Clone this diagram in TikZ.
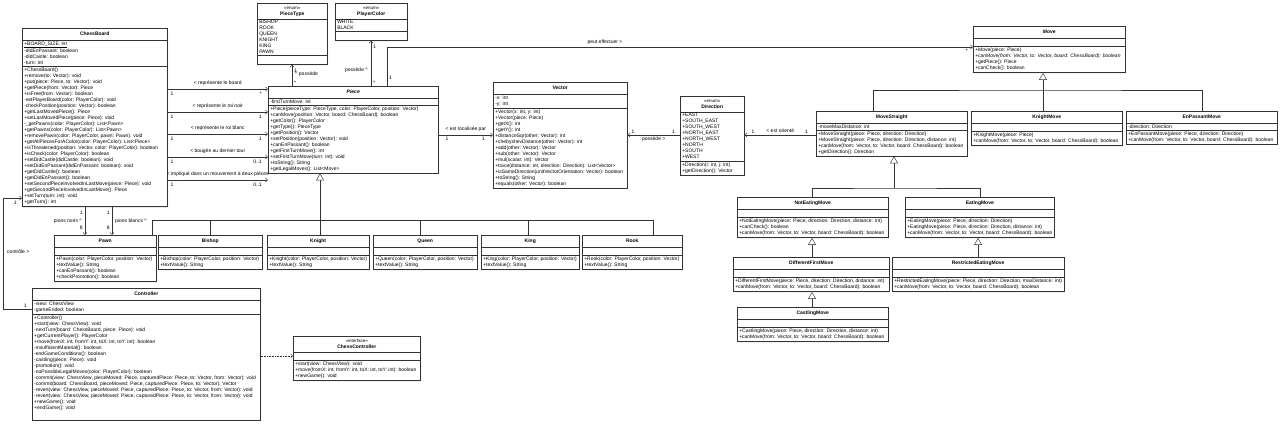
\documentclass[tikz,border=0pt]{standalone}
\usepackage{fontspec}
\setmainfont{Liberation Sans}
\usetikzlibrary{shapes.multipart,arrows.meta,shadows}

\newcommand{\umlfont}{\fontsize{5}{6}\selectfont}
\newcommand{\cname}[1]{\rule[-2.6pt]{0pt}{8pt}\textbf{#1}}
\newcommand{\stereo}[2]{{\begin{tabular}{@{}c@{}}{\fontsize{4.5}{5}\selectfont«#1»}\\\textbf{#2}\rule[-1pt]{0pt}{1pt}\end{tabular}}}

\begin{document}
\begin{tikzpicture}[x=1pt,y=-1pt,
		cls/.style={draw=black!80, line width=0.5pt, fill=white, rectangle split, rectangle split parts=3,
			rectangle split part align={center,left,left}, rectangle split empty part height=1pt,
			align=left, anchor=north west, inner xsep=2pt, inner ysep=1.5pt, minimum width=#1, font=\umlfont,
			drop shadow={shadow xshift=0.8pt, shadow yshift=-0.8pt, opacity=0.25}},
		link/.style={draw=black!80, line width=0.45pt},
		assoc/.style={link, -{Straight Barb[length=2.2pt,width=4pt]}},
		inherit/.style={link, -{Triangle[open,length=7pt,width=8pt,fill=white]}},
		realize/.style={assoc, line width=0.35pt, dash pattern=on 0.6pt off 1pt},
		lab/.style={font=\umlfont, inner sep=1pt},
	]
	\useasboundingbox[fill=white] (0,0) rectangle (1280,426);

	\node[cls=145pt] (board) at (22,28) {\cname{ChessBoard}
		\nodepart{second}\underline{+BOARD\_SIZE: int}\\-didEnPassant: boolean\\-didCastle: boolean\\-turn: int
		\nodepart{third}+ChessBoard()\\+remove(to: Vector): void\\+put(piece: Piece, to: Vector): void\\+getPiece(from: Vector): Piece\\+isFree(from: Vector): boolean\\-setPlayerBoard(color: PlayerColor): void\\-checkPosition(position: Vector): boolean\\+getLastMovedPiece(): Piece\\+setLastMovedPiece(piece: Piece): void\\-\_getPawns(color: PlayerColor): List<Pawn>\\+getPawns(color: PlayerColor): List<Pawn>\\+removePawn(color: PlayerColor, pawn: Pawn): void\\+getAllPiecesForAColor(color: PlayerColor): List<Piece>\\+isThreatened(position: Vector, color: PlayerColor): boolean\\+isCheck(color: PlayerColor): boolean\\+setDidCastle(didCastle: boolean): void\\+setDidEnPassant(didEnPassant: boolean): void\\+getDidCastle(): boolean\\+getDidEnPassant(): boolean\\+setSecondPieceInvolvedInLastMove(piece: Piece): void\\+getSecondPieceInvolvedInLastMove(): Piece\\+setTurn(turn: int): void\\+getTurn(): int};

	\node[cls=70pt] (piecetype) at (257,3) {\stereo{enum}{PieceType}
		\nodepart{second}BISHOP\\ROOK\\QUEEN\\KNIGHT\\KING\\PAWN
		\nodepart{third}};
	\node[cls=72pt] (playercolor) at (335,3) {\stereo{enum}{PlayerColor}
		\nodepart{second}WHITE\\BLACK
		\nodepart{third}};

	\node[cls=170pt] (piece) at (268,86) {\cname{\textit{Piece}}
		\nodepart{second}-firstTurnMove: int
		\nodepart{third}+Piece(pieceType: PieceType, color: PlayerColor, position: Vector)\\+canMove(position: Vector, board: ChessBoard): boolean\\+getColor(): PlayerColor\\+getType(): PieceType\\+getPosition(): Vector\\+setPosition(position: Vector): void\\+canEnPassant(): boolean\\+getFirstTurnMove(): int\\+setFirstTurnMove(turn: int): void\\+toString(): String\\+getLegalMoves(): List<Move>};

	\node[cls=134pt] (vector) at (493,82) {\cname{Vector}
		\nodepart{second}-x: int\\-y: int
		\nodepart{third}+Vector(x: int, y: int)\\+Vector(piece: Piece)\\+getX(): int\\+getY(): int\\+distanceSqr(other: Vector): int\\+chebyshevDistance(other: Vector): int\\+add(other: Vector): Vector\\+sub(other: Vector): Vector\\+mul(scalar: int): Vector\\+trace(distance: int, direction: Direction): List<Vector>\\+isSameDirection(unitVectorOrientation: Vector): boolean\\+toString(): String\\+equals(other: Vector): boolean};

	\node[cls=64pt] (direction) at (680,96) {\stereo{enum}{Direction}
		\nodepart{second}+EAST\\+SOUTH\_EAST\\+SOUTH\_WEST\\+NORTH\_EAST\\+NORTH\_WEST\\+NORTH\\+SOUTH\\+WEST
		\nodepart{third}+Direction(i: int, j: int)\\+getDirection(): Vector};

	\node[cls=152pt] (move) at (973,26) {\cname{\textit{Move}}
		\nodepart{second}
		\nodepart{third}+Move(piece: Piece)\\\textit{+canMove(from: Vector, to: Vector, board: ChessBoard): boolean}\\+getPiece(): Piece\\+canCheck(): boolean};
	\node[cls=151pt] (straight) at (816,111) {\cname{MoveStraight}
		\nodepart{second}-moveMaxDistance: int
		\nodepart{third}+MoveStraight(piece: Piece, direction: Direction)\\+MoveStraight(piece: Piece, direction: Direction, distance: int)\\+canMove(from: Vector, to: Vector, board: ChessBoard): boolean\\+getDirection(): Direction};
	\node[cls=151pt] (knightmove) at (971,111) {\cname{KnightMove}
		\nodepart{second}
		\nodepart{third}+KnightMove(piece: Piece)\\+canMove(from: Vector, to: Vector, board: ChessBoard): boolean};
	\node[cls=151pt] (enpassant) at (1126,111) {\cname{EnPassantMove}
		\nodepart{second}-direction: Direction
		\nodepart{third}+EnPassantMove(piece: Piece, direction: Direction)\\+canMove(from: Vector, to: Vector, board: ChessBoard): boolean};
	\node[cls=151pt] (noteating) at (737,197) {\cname{NotEatingMove}
		\nodepart{second}
		\nodepart{third}+NotEatingMove(piece: Piece, direction: Direction, distance: int)\\+canCheck(): boolean\\+canMove(from: Vector, to: Vector, board: ChessBoard): boolean};
	\node[cls=148pt] (eating) at (905,197) {\cname{EatingMove}
		\nodepart{second}
		\nodepart{third}+EatingMove(piece: Piece, direction: Direction)\\+EatingMove(piece: Piece, direction: Direction, distance: int)\\+canMove(from: Vector, to: Vector, board: ChessBoard): boolean};
	\node[cls=156pt] (firstmove) at (733,257) {\cname{DifferentFirstMove}
		\nodepart{second}
		\nodepart{third}+DifferentFirstMove(piece: Piece, direction: Direction, distance: int)\\+canMove(from: Vector, to: Vector, board: ChessBoard): boolean};
	\node[cls=170pt] (restricted) at (892,257) {\cname{RestrictedEatingMove}
		\nodepart{second}
		\nodepart{third}+RestrictedEatingMove(piece: Piece, direction: Direction, maxDistance: int)\\+canMove(from: Vector, to: Vector, board: ChessBoard): boolean};
	\node[cls=151pt] (castling) at (737,307) {\cname{CastlingMove}
		\nodepart{second}
		\nodepart{third}+CastlingMove(piece: Piece, direction: Direction, distance: int)\\+canMove(from: Vector, to: Vector, board: ChessBoard): boolean};

	\node[cls=102pt] (pawn) at (54,235) {\cname{Pawn}
		\nodepart{second}
		\nodepart{third}+Pawn(color: PlayerColor, position: Vector)\\+textValue(): String\\+canEnPassant(): boolean\\+checkPromotion(): boolean};
	\foreach \n/\name/\x/\w in {bishop/Bishop/158/104pt, knight/Knight/267/101pt, queen/Queen/373/104pt, king/King/481/98pt, rook/Rook/582/100pt}{
		\node[cls=\w] (\n) at (\x,235) {\cname{\name}
			\nodepart{second}
			\nodepart{third}+\name(color: PlayerColor, position: Vector)\\+textValue(): String};
	}

	\node[cls=228pt] (controller) at (32,288) {\cname{Controller}
		\nodepart{second}-view: ChessView\\-gameEnded: boolean
		\nodepart{third}+Controller()\\+start(view: ChessView): void\\-nextTurn(board: ChessBoard, piece: Piece): void\\+getCurrentPlayer(): PlayerColor\\+move(fromX: int, fromY: int, toX: int, toY: int): boolean\\-insufficientMaterial(): boolean\\-endGameConditions(): boolean\\-castling(piece: Piece): void\\-promotion(): void\\-noPossibleLegalMoves(color: PlayerColor): boolean\\-commit(view: ChessView, pieceMoved: Piece, capturedPiece: Piece, to: Vector, from: Vector): void\\-commit(board: ChessBoard, pieceMoved: Piece, capturedPiece: Piece, to: Vector): Vector\\-revert(view: ChessView, pieceMoved: Piece, capturedPiece: Piece, to: Vector, from: Vector): void\\-revert(view: ChessView, pieceMoved: Piece, capturedPiece: Piece, to: Vector, from: Vector): void\\+newGame(): void\\+endGame(): void\rule[-9pt]{0pt}{1pt}};
	\node[cls=127pt] (chesscontroller) at (293,336) {\stereo{interface}{ChessController}
		\nodepart{second}
		\nodepart{third}+start(view: ChessView): void\\+move(fromX: int, fromY: int, toX: int, toY: int): boolean\\+newGame(): void};

	\foreach \y/\txt/\m [count=\i] in {89/{< représente le board}/*, 112/{< représente le roi noir}/1, 134/{< représente le roi blanc}/1, 157/{< bougée au dernier tour}/0..1, 180/{< impliqué dans un mouvement à deux pièces}/0..1}{
		\draw[assoc] (board.east |- 0,\y) -- node[lab, above=2pt] (rl\i) {\txt}
			node[lab, at start, anchor=north west, xshift=2pt, yshift=-2pt] (ra\i) {1}
			node[lab, at end, anchor=north east, xshift=-5pt, yshift=-2pt] (rb\i) {\m} (piece.west |- 0,\y);
	}

	\draw[assoc] (piece.north -| 292,0) -- node[lab, pos=0.55, anchor=west, xshift=2pt] (ptl) {\textasciicircum\ possède}
		node[lab, at start, anchor=south west, xshift=1pt] (pta) {*}
		node[lab, at end, anchor=north west, xshift=1pt, yshift=-3pt] (ptb) {1} (piecetype.south -| 292,0);
	\draw[assoc] (piece.north -| 371,0) -- node[lab, pos=0.36, anchor=east, xshift=-2pt] (pcl) {possède \textasciicircum}
		node[lab, at start, anchor=south west, xshift=1pt] (pca) {*}
		node[lab, at end, anchor=north west, xshift=1pt, yshift=-3pt] (pcb) {1} (playercolor.south -| 371,0);
	\draw[assoc] (piece.north -| 387,0) |- node[lab, pos=0.686, above=1pt] (mvl) {peut effectuer >}
		node[lab, at start, anchor=south west, xshift=1pt, yshift=5pt] (mva) {1} (move.west |- 0,47)
		node[lab, anchor=north east, xshift=-4pt, yshift=-1pt] (mvb) {*};

	\draw[assoc] (piece.east |- 0,135) -- node[lab, above=2pt] (vl) {< est localisée par}
		node[lab, at start, anchor=north west, xshift=6pt, yshift=-1pt] (va) {1}
		node[lab, at end, anchor=north east, xshift=-7pt, yshift=-1pt] (vb) {1} (vector.west |- 0,135);
	\draw[assoc] (direction.west |- 0,135) -- node[lab, below=1pt] (dl) {possède >}
		node[lab, at start, anchor=south east, xshift=-4pt] (da) {1}
		node[lab, at end, anchor=south west, xshift=3pt] (db) {1} (vector.east |- 0,135);
	\draw[assoc] (straight.west |- 0,135) -- node[lab, above=1pt] (sl) {< est orienté}
		node[lab, at start, anchor=south east, xshift=-7pt] (sa) {1}
		node[lab, at end, anchor=south west, xshift=6pt] (sb) {1} (direction.east |- 0,135);

	\draw[assoc] (board.south -| 85,0) -- node[lab, anchor=east, xshift=-2pt] (nl) {pions noirs \textasciicircum}
		node[lab, at start, anchor=north east, xshift=-1pt, yshift=-3pt] (na) {1}
		node[lab, at end, anchor=south east, xshift=-1pt, yshift=4pt] (nb) {8} (pawn.north -| 85,0);
	\draw[assoc] (board.south -| 112,0) -- node[lab, anchor=west, xshift=2pt] (bl) {pions blancs \textasciicircum}
		node[lab, at start, anchor=north east, xshift=-1pt, yshift=-3pt] (ba) {1}
		node[lab, at end, anchor=south east, xshift=-1pt, yshift=4pt] (bb) {8} (pawn.north -| 112,0);

	\draw[assoc] (controller.west |- 0,309) -- node[lab, at start, anchor=south east, xshift=-4pt] (ca) {1} ++(-29,0)
		|- node[lab, pos=0.26, anchor=west, xshift=3pt] (cl) {contrôle >}
		node[lab, at end, anchor=north east, xshift=-4pt, yshift=-2pt] (cb) {1} (board.west |- 0,198);
	\draw[realize] (controller.east |- 0,356) -- (chesscontroller.west |- 0,356);

	\coordinate (pbus) at (320,220);
	\draw[inherit] (pbus) -- (piece.south -| pbus);
	\draw[link] (pbus -| 152,0) -- (pbus -| 653,0);
	\foreach \n/\x in {pawn/152, bishop/210, knight/320, queen/420, king/528, rook/653}{
		\draw[link] (pbus -| \x,0) -- (\n.north -| \x,0);
	}

	\coordinate (mbus) at (1043,90);
	\draw[inherit] (knightmove.north -| mbus) -- (move.south -| mbus);
	\draw[link] (straight.north -| 873,0) |- (mbus) -| (enpassant.north -| 1202,0);

	\coordinate (sbus) at (894,188);
	\draw[inherit] (sbus) -- (straight.south -| sbus);
	\draw[link] (noteating.north -| 812,0) |- (sbus) -| (eating.north -| 980,0);
	\draw[inherit] (firstmove.north -| 812,0) -- (noteating.south -| 812,0);
	\draw[inherit] (castling.north -| 812,0) -- (firstmove.south -| 812,0);
	\draw[inherit] (restricted.north -| 978,0) -- (eating.south -| 978,0);
\end{tikzpicture}
\end{document}
